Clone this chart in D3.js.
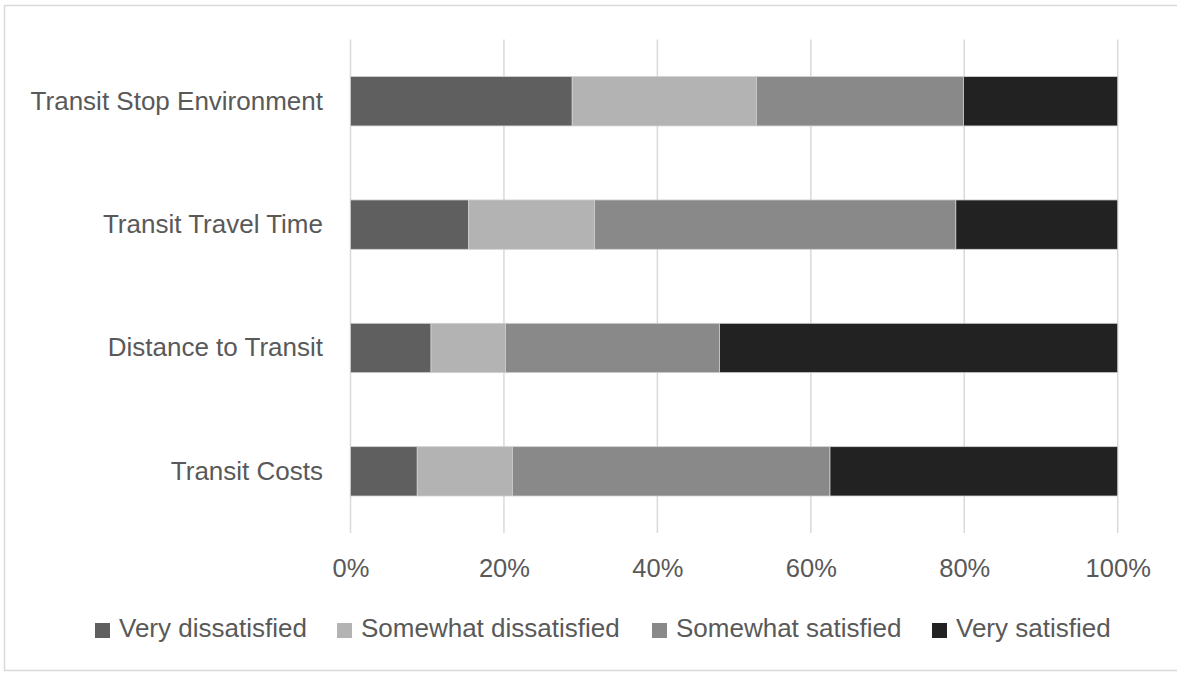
<!DOCTYPE html>
<html>
<head>
<meta charset="utf-8">
<script src="https://cdn.jsdelivr.net/npm/d3@7"></script>
<style>
  body { margin: 0; background: #fff; }
  svg { display: block; font-family: "Liberation Sans", Arial, sans-serif; }
</style>
</head>
<body>
<script>
// data (percent)
var categories = ["Transit Stop Environment", "Transit Travel Time", "Distance to Transit", "Transit Costs"];
var seriesNames = ["Very dissatisfied", "Somewhat dissatisfied", "Somewhat satisfied", "Very satisfied"];
var veryDissatisfied = [28.9, 15.4, 10.5, 8.7];
var somewhatDissatisfied = [24.0, 16.4, 9.7, 12.4];
var somewhatSatisfied = [27.0, 47.1, 27.9, 41.4];
var verySatisfied = [20.1, 21.1, 51.9, 37.5];
var tickValues = [0, 20, 40, 60, 80, 100];
var colors = ["#5f5f5f", "#b3b3b3", "#898989", "#222222"];

var width = 1177, height = 673;

var svg = d3.select("body").append("svg")
    .attr("width", width)
    .attr("height", height);

// chart frame
svg.append("rect")
    .attr("x", 4.5).attr("y", 5.5)
    .attr("width", 1180).attr("height", 665)
    .attr("fill", "none")
    .attr("stroke", "#d9d9d9")
    .attr("stroke-width", 1.5);

var x = d3.scaleLinear().domain([0, 100]).range([350.5, 1117.7]);
var y = d3.scaleBand().domain(categories).range([39.6, 533]).paddingInner(0.6).paddingOuter(0.3);

// build stacked table
var table = categories.map(function (c, i) {
    return {
        cat: c,
        "Very dissatisfied": veryDissatisfied[i],
        "Somewhat dissatisfied": somewhatDissatisfied[i],
        "Somewhat satisfied": somewhatSatisfied[i],
        "Very satisfied": verySatisfied[i]
    };
});
var stacked = d3.stack().keys(seriesNames)(table);

// gridlines
svg.append("g")
    .selectAll("line")
    .data(tickValues)
    .enter().append("line")
    .attr("x1", function (d) { return x(d); })
    .attr("x2", function (d) { return x(d); })
    .attr("y1", 39.6)
    .attr("y2", 533)
    .attr("stroke", "#d9d9d9")
    .attr("stroke-width", 1.5);

// bars
svg.append("g")
    .selectAll("g")
    .data(stacked)
    .enter().append("g")
    .attr("fill", function (d, i) { return colors[i]; })
    .selectAll("rect")
    .data(function (d) { return d; })
    .enter().append("rect")
    .attr("x", function (d) { return x(d[0]); })
    .attr("width", function (d) { return x(d[1]) - x(d[0]); })
    .attr("y", function (d) { return y(d.data.cat); })
    .attr("height", y.bandwidth())
    .attr("stroke", "#d0d0d0")
    .attr("stroke-width", 0.8);

// x axis
var xAxis = svg.append("g")
    .attr("transform", "translate(0,533)")
    .call(d3.axisBottom(x)
        .tickValues(tickValues)
        .tickSize(0)
        .tickPadding(26)
        .tickFormat(function (d) { return d + "%"; }));
xAxis.select(".domain").remove();
xAxis.selectAll("text")
    .attr("fill", "#595959")
    .style("font-size", "25.5px")
    .style("font-family", "'Liberation Sans', Arial, sans-serif");

// y axis
var yAxis = svg.append("g")
    .attr("transform", "translate(350,0)")
    .call(d3.axisLeft(y).tickSize(0).tickPadding(27));
yAxis.select(".domain").remove();
yAxis.selectAll("text")
    .attr("fill", "#595959")
    .style("font-size", "26px")
    .style("font-family", "'Liberation Sans', Arial, sans-serif");

// legend
var legendX = [95, 337, 652, 932];
var legend = svg.append("g")
    .selectAll("g")
    .data(seriesNames)
    .enter().append("g")
    .attr("transform", function (d, i) { return "translate(" + legendX[i] + ",623)"; });

legend.append("rect")
    .attr("width", 15)
    .attr("height", 15)
    .attr("fill", function (d, i) { return colors[i]; });

legend.append("text")
    .attr("x", 24)
    .attr("y", 14)
    .attr("fill", "#595959")
    .style("font-size", "26px")
    .text(function (d) { return d; });
</script>
</body>
</html>
